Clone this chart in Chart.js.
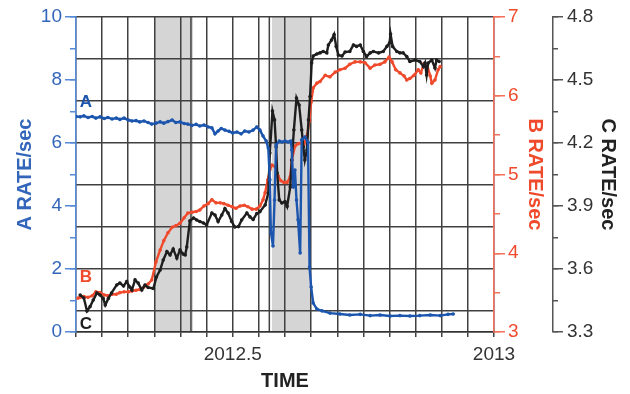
<!DOCTYPE html>
<html>
<head>
<meta charset="utf-8">
<script src="https://cdn.jsdelivr.net/npm/chart.js@4.4.1/dist/chart.umd.min.js"></script>
<style>
  html, body { margin: 0; padding: 0; background: #fff; }
  canvas { display: block; }
</style>
</head>
<body>
<canvas id="chart" width="630" height="394"></canvas>
<script>
// values (time in decimal years)
const aTime = [2012.200, 2012.208, 2012.215, 2012.223, 2012.231, 2012.238, 2012.246, 2012.254, 2012.261, 2012.269,
  2012.277, 2012.284, 2012.292, 2012.300, 2012.307, 2012.315, 2012.322, 2012.330, 2012.338, 2012.345,
  2012.353, 2012.361, 2012.368, 2012.376, 2012.384, 2012.391, 2012.399, 2012.407, 2012.414, 2012.422,
  2012.430, 2012.437, 2012.445, 2012.453, 2012.460, 2012.466, 2012.472, 2012.478, 2012.485, 2012.493,
  2012.500, 2012.508, 2012.516, 2012.523, 2012.531, 2012.539, 2012.546, 2012.552, 2012.558, 2012.564,
  2012.568, 2012.571, 2012.573, 2012.577, 2012.580, 2012.583, 2012.589, 2012.594, 2012.600, 2012.606,
  2012.611, 2012.613, 2012.616, 2012.619, 2012.622, 2012.625, 2012.629, 2012.632, 2012.638, 2012.644,
  2012.647, 2012.650, 2012.654, 2012.661, 2012.671, 2012.686, 2012.705, 2012.724, 2012.744, 2012.763,
  2012.782, 2012.801, 2012.820, 2012.839, 2012.858, 2012.878, 2012.897, 2012.912, 2012.922];
const aRate = [6.84, 6.83, 6.86, 6.81, 6.84, 6.79, 6.83, 6.78, 6.81, 6.76,
  6.79, 6.75, 6.79, 6.73, 6.70, 6.71, 6.67, 6.70, 6.65, 6.60,
  6.63, 6.67, 6.63, 6.68, 6.73, 6.65, 6.67, 6.62, 6.60, 6.56,
  6.59, 6.54, 6.57, 6.51, 6.48, 6.29, 6.38, 6.46, 6.41, 6.37,
  6.32, 6.35, 6.29, 6.38, 6.35, 6.41, 6.51, 6.41, 6.22, 6.06,
  5.84, 4.83, 3.17, 2.73, 4.19, 5.94, 6.06, 6.03, 6.06, 6.03,
  6.06, 5.78, 4.60, 5.14, 4.19, 3.56, 2.51, 6.10, 6.19, 6.03,
  2.06, 1.43, 0.92, 0.73, 0.67, 0.60, 0.57, 0.54, 0.56, 0.52,
  0.54, 0.51, 0.52, 0.51, 0.52, 0.54, 0.52, 0.56, 0.57];

const bTime = [2012.204, 2012.208, 2012.215, 2012.223, 2012.231, 2012.238, 2012.246, 2012.254, 2012.261, 2012.269,
  2012.277, 2012.284, 2012.292, 2012.300, 2012.307, 2012.315, 2012.322, 2012.330, 2012.338, 2012.345,
  2012.353, 2012.361, 2012.368, 2012.376, 2012.384, 2012.391, 2012.399, 2012.407, 2012.414, 2012.422,
  2012.430, 2012.437, 2012.445, 2012.453, 2012.460, 2012.468, 2012.476, 2012.483, 2012.491, 2012.499,
  2012.506, 2012.514, 2012.522, 2012.529, 2012.537, 2012.545, 2012.552, 2012.558, 2012.562, 2012.567,
  2012.571, 2012.575, 2012.581, 2012.587, 2012.592, 2012.598, 2012.604, 2012.610, 2012.613, 2012.619,
  2012.625, 2012.631, 2012.636, 2012.642, 2012.647, 2012.650, 2012.654, 2012.661, 2012.667, 2012.677,
  2012.686, 2012.696, 2012.705, 2012.715, 2012.724, 2012.734, 2012.744, 2012.753, 2012.763, 2012.772,
  2012.782, 2012.791, 2012.799, 2012.805, 2012.812, 2012.820, 2012.828, 2012.833, 2012.839, 2012.847,
  2012.855, 2012.860, 2012.866, 2012.872, 2012.878, 2012.881, 2012.887, 2012.893, 2012.897];
const bRate = [3.43, 3.44, 3.45, 3.44, 3.46, 3.51, 3.50, 3.47, 3.46, 3.48,
  3.48, 3.50, 3.51, 3.51, 3.52, 3.53, 3.54, 3.57, 3.61, 3.66,
  3.89, 4.04, 4.16, 4.26, 4.33, 4.35, 4.38, 4.45, 4.51, 4.52,
  4.53, 4.55, 4.60, 4.63, 4.68, 4.64, 4.64, 4.63, 4.61, 4.59,
  4.57, 4.60, 4.61, 4.59, 4.56, 4.56, 4.60, 4.68, 4.77, 4.93,
  5.06, 5.12, 5.10, 4.98, 4.92, 4.90, 4.90, 4.97, 5.18, 5.36,
  5.39, 5.40, 5.38, 5.49, 5.69, 5.92, 6.10, 6.16, 6.18, 6.26,
  6.24, 6.30, 6.33, 6.35, 6.40, 6.43, 6.43, 6.42, 6.35, 6.39,
  6.40, 6.43, 6.49, 6.43, 6.33, 6.29, 6.25, 6.20, 6.22, 6.26,
  6.33, 6.29, 6.41, 6.39, 6.25, 6.16, 6.20, 6.33, 6.37];

const cTime = [2012.208, 2012.215, 2012.221, 2012.227, 2012.233, 2012.240, 2012.246, 2012.252, 2012.256, 2012.262,
  2012.268, 2012.278, 2012.284, 2012.291, 2012.297, 2012.303, 2012.307, 2012.313, 2012.319, 2012.326,
  2012.332, 2012.338, 2012.348, 2012.354, 2012.361, 2012.367, 2012.374, 2012.380, 2012.386, 2012.393,
  2012.399, 2012.405, 2012.409, 2012.412, 2012.418, 2012.425, 2012.431, 2012.437, 2012.444, 2012.450,
  2012.460, 2012.466, 2012.472, 2012.479, 2012.485, 2012.491, 2012.498, 2012.504, 2012.511, 2012.517,
  2012.527, 2012.533, 2012.539, 2012.546, 2012.552, 2012.562, 2012.568, 2012.571, 2012.576, 2012.580,
  2012.583, 2012.585, 2012.589, 2012.594, 2012.600, 2012.604, 2012.610, 2012.613, 2012.617, 2012.622,
  2012.627, 2012.632, 2012.635, 2012.638, 2012.642, 2012.645, 2012.648, 2012.651, 2012.654, 2012.661,
  2012.667, 2012.673, 2012.680, 2012.683, 2012.689, 2012.694, 2012.698, 2012.702, 2012.709, 2012.715,
  2012.724, 2012.731, 2012.737, 2012.744, 2012.750, 2012.756, 2012.763, 2012.769, 2012.779, 2012.788,
  2012.795, 2012.800, 2012.802, 2012.806, 2012.814, 2012.820, 2012.826, 2012.833, 2012.839, 2012.849,
  2012.858, 2012.865, 2012.868, 2012.871, 2012.874, 2012.881, 2012.887, 2012.890, 2012.895];
const cRate = [3.476, 3.462, 3.400, 3.421, 3.452, 3.486, 3.476, 3.460, 3.429, 3.460,
  3.486, 3.524, 3.533, 3.519, 3.540, 3.514, 3.500, 3.548, 3.533, 3.500,
  3.524, 3.512, 3.507, 3.562, 3.595, 3.643, 3.683, 3.667, 3.695, 3.652,
  3.690, 3.671, 3.667, 3.705, 3.829, 3.843, 3.833, 3.826, 3.819, 3.810,
  3.867, 3.857, 3.826, 3.857, 3.888, 3.867, 3.826, 3.800, 3.802, 3.833,
  3.867, 3.848, 3.836, 3.864, 3.873, 3.905, 3.962, 4.152, 4.352, 4.310,
  4.181, 4.057, 3.929, 3.914, 3.921, 3.898, 3.990, 4.119, 4.262, 4.414,
  4.381, 4.262, 4.181, 4.119, 4.167, 4.310, 4.421, 4.581, 4.614, 4.624,
  4.629, 4.636, 4.629, 4.667, 4.690, 4.717, 4.660, 4.619, 4.614, 4.633,
  4.636, 4.667, 4.660, 4.667, 4.636, 4.612, 4.629, 4.636, 4.629, 4.636,
  4.660, 4.676, 4.719, 4.660, 4.636, 4.629, 4.629, 4.612, 4.588, 4.595,
  4.588, 4.564, 4.581, 4.524, 4.581, 4.595, 4.557, 4.595, 4.588];

// shaded intervals and marker lines
const shadeStart = [2012.350, 2012.575];
const shadeEnd = [2012.424, 2012.650];
const eventLines = [2012.420, 2012.570];
const timeLabels = [2012.5, 2013];

const FONT = '"Liberation Sans", Arial, Helvetica, sans-serif';
const BLUE = '#1b55ae';
const BLUE_AX = '#5689d6';
const BLUE_TXT = '#3366bb';
const RED = '#f04a2c';
const RED_AX = '#f2705a';
const BLACK = '#1e1e1e';
const GRID = '#404040';

Chart.defaults.font.family = FONT;

function points(t, v) {
  return t.map((x, i) => ({ x: x, y: v[i] }));
}

const shading = {
  id: 'shading',
  beforeDraw(chart) {
    const { ctx, chartArea: area, scales: { x } } = chart;
    ctx.save();
    ctx.fillStyle = '#d5d5d5';
    shadeStart.forEach((s, i) => {
      const x0 = x.getPixelForValue(s);
      const x1 = x.getPixelForValue(shadeEnd[i]);
      ctx.fillRect(x0, area.top, x1 - x0, area.bottom - area.top);
    });
    ctx.strokeStyle = GRID;
    ctx.lineWidth = 1.5;
    eventLines.forEach(t => {
      const px = x.getPixelForValue(t);
      ctx.beginPath();
      ctx.moveTo(px, area.top);
      ctx.lineTo(px, area.bottom);
      ctx.stroke();
    });
    ctx.restore();
  }
};

// letters A, B, C next to the start of each series
const tags = [
  { text: 'A', color: BLUE, axis: 'yA', v: aRate, dy: -14 },
  { text: 'B', color: RED, axis: 'yB', v: bRate, dy: -21 },
  { text: 'C', color: BLACK, axis: 'yC', v: cRate, dy: 29 }
];
const seriesTags = {
  id: 'seriesTags',
  afterDatasetsDraw(chart) {
    const { ctx, chartArea: area, scales } = chart;
    ctx.save();
    ctx.font = 'bold 17px ' + FONT;
    ctx.textAlign = 'center';
    ctx.textBaseline = 'middle';
    tags.forEach(tg => {
      ctx.fillStyle = tg.color;
      ctx.fillText(tg.text, area.left + 10, scales[tg.axis].getPixelForValue(tg.v[0]) + tg.dy);
    });
    ctx.restore();
  }
};

function series(label, t, v, color, axis) {
  return {
    label: label,
    data: points(t, v),
    yAxisID: axis,
    borderColor: color,
    backgroundColor: color,
    borderWidth: 2.4,
    pointRadius: 1.8,
    pointBorderWidth: 0,
    tension: 0
  };
}

const tickFont = { size: 19 };
const titleFont = { size: 20, weight: 'bold' };

new Chart(document.getElementById('chart'), {
  type: 'line',
  data: {
    datasets: [
      series('A', aTime, aRate, BLUE, 'yA'),
      series('C', cTime, cRate, BLACK, 'yC'),
      series('B', bTime, bRate, RED, 'yB')
    ]
  },
  options: {
    responsive: false,
    animation: false,
    devicePixelRatio: 1,
    layout: { padding: { top: 17, left: 0, right: 0, bottom: 0 } },
    plugins: { legend: { display: false }, tooltip: { enabled: false } },
    scales: {
      x: {
        type: 'linear',
        min: 2012.2,
        max: 2013,
        afterFit: s => { s.height = 62; },
        grid: { color: GRID, lineWidth: 1.5, tickLength: 5, tickColor: GRID },
        border: { color: '#333', width: 1.5 },
        ticks: {
          stepSize: 0.05,
          autoSkip: false,
          maxRotation: 0,
          padding: 6,
          color: '#333',
          font: tickFont,
          callback: v => timeLabels.some(t => Math.abs(t - v) < 1e-6) ? String(+v.toFixed(1)) : ''
        },
        title: { display: true, text: 'TIME', color: '#222', font: titleFont, padding: { top: 0, bottom: 1 } }
      },
      yGrid: {
        position: 'left',
        weight: 0,
        min: 0,
        max: 7.5,
        reverse: true,
        afterFit: s => { s.width = 0; },
        grid: { drawTicks: false, color: GRID, lineWidth: 1.5 },
        border: { display: false },
        ticks: { display: false, stepSize: 1 }
      },
      yAminor: {
        position: 'left',
        weight: 0,
        min: 0,
        max: 10,
        afterFit: s => { s.width = 0; },
        grid: { drawOnChartArea: false, tickLength: 6, color: BLUE_AX, lineWidth: 1.5 },
        border: { display: false },
        ticks: { display: false, stepSize: 1 }
      },
      yA: {
        position: 'left',
        weight: 1,
        min: 0,
        max: 10,
        afterFit: s => { s.width = 76; },
        grid: { drawOnChartArea: false, tickLength: 11, color: BLUE_AX, lineWidth: 1.5 },
        border: { color: BLUE_AX, width: 1.5 },
        ticks: { stepSize: 2, padding: 3, color: BLUE_TXT, font: tickFont },
        title: { display: true, text: 'A RATE/sec', color: BLUE_TXT, font: titleFont, padding: { top: 13, bottom: 0 } }
      },
      yBminor: {
        position: 'right',
        weight: 0,
        min: 3,
        max: 7,
        afterFit: s => { s.width = 0; },
        grid: { drawOnChartArea: false, tickLength: 6, color: RED_AX, lineWidth: 1.5 },
        border: { display: false },
        ticks: { display: false, stepSize: 0.5 }
      },
      yB: {
        position: 'right',
        weight: 1,
        min: 3,
        max: 7,
        afterFit: s => { s.width = 59; },
        grid: { drawOnChartArea: false, tickLength: 11, color: RED_AX, lineWidth: 1.5 },
        border: { color: RED_AX, width: 1.5 },
        ticks: { stepSize: 1, padding: 3, color: RED, font: tickFont },
        title: { display: true, text: 'B RATE/sec', color: RED, font: titleFont, padding: { top: 6, bottom: 0 } }
      },
      yCminor: {
        position: 'right',
        weight: 2,
        min: 3.3,
        max: 4.8,
        afterFit: s => { s.width = 0; },
        grid: { drawOnChartArea: false, tickLength: 5, color: '#555', lineWidth: 1.5 },
        border: { display: false },
        ticks: { display: false, stepSize: 0.15 }
      },
      yC: {
        position: 'right',
        weight: 3,
        min: 3.3,
        max: 4.8,
        afterFit: s => { s.width = 77; },
        grid: { drawOnChartArea: false, tickLength: 10, color: '#555', lineWidth: 1.5 },
        border: { color: '#555', width: 1.5 },
        ticks: { stepSize: 0.3, padding: 4, color: '#333', font: tickFont, callback: v => v.toFixed(1) },
        title: { display: true, text: 'C RATE/sec', color: '#222', font: titleFont, padding: { top: 10, bottom: 0 } }
      }
    }
  },
  plugins: [shading, seriesTags]
});
</script>
</body>
</html>
